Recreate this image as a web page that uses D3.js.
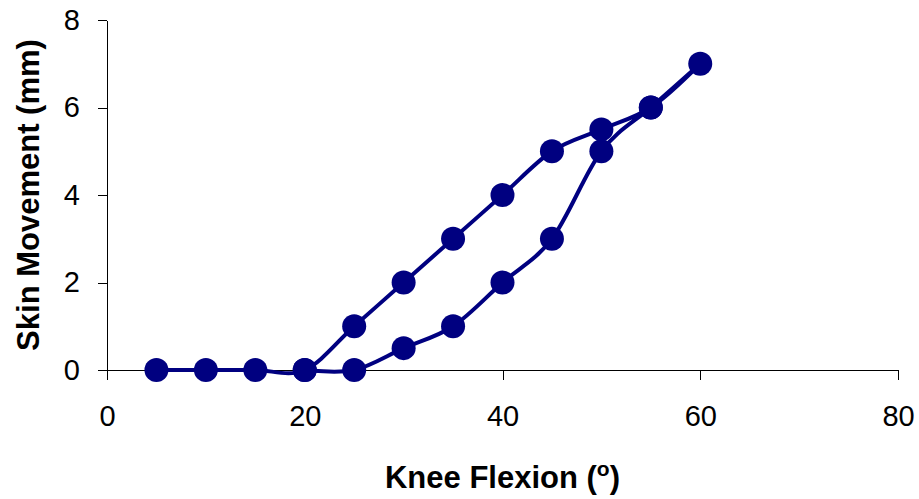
<!DOCTYPE html>
<html>
<head>
<meta charset="utf-8">
<script src="https://cdn.jsdelivr.net/npm/d3@7"></script>
<style>
  body { margin: 0; background: #fff; }
  text { font-family: "Liberation Sans", Arial, sans-serif; }
</style>
</head>
<body>
<div id="chart"></div>
<script>
// knee flexion loop: loading up to 60 deg then back down
var kneeAngle = [5, 10, 15, 20, 25, 30, 35, 40, 45, 50, 55, 60, 55, 50, 45, 40, 35, 30, 25, 20];
var skinMove  = [0, 0, 0, 0, 1, 2, 3, 4, 5, 5.5, 6, 7, 6, 5, 3, 2, 1, 0.5, 0, 0];
var xTicks = [0, 20, 40, 60, 80];
var yTicks = [0, 2, 4, 6, 8];

var width = 919, height = 499;
var navy = "#000080";

var data = kneeAngle.map(function(d, i) { return {x: d, y: skinMove[i]}; });

var svg = d3.select("#chart").append("svg")
    .attr("width", width)
    .attr("height", height);

var x = d3.scaleLinear().domain([0, 80]).range([107, 898]);
var y = d3.scaleLinear().domain([0, 8]).range([370, 20]);

// y axis
var yAxis = svg.append("g")
    .attr("transform", "translate(" + x(0) + ",0)")
    .call(d3.axisLeft(y).tickValues(yTicks).tickSize(9).tickSizeOuter(0).tickPadding(18));

// x axis sits on y = 0
var xAxis = svg.append("g")
    .attr("transform", "translate(0," + y(0) + ")")
    .call(d3.axisBottom(x).tickValues(xTicks).tickSize(10).tickSizeOuter(0).tickPadding(25));

svg.selectAll(".domain, .tick line")
    .attr("stroke", "#000")
    .attr("stroke-width", 1)
    .attr("shape-rendering", "crispEdges");
svg.selectAll(".tick text")
    .attr("fill", "#000")
    .style("font-family", "'Liberation Sans', Arial, sans-serif")
    .style("font-size", "29px");

// smoothed line, like the spreadsheet one
svg.append("path")
    .datum(data)
    .attr("fill", "none")
    .attr("stroke", navy)
    .attr("stroke-width", 4)
    .attr("stroke-linejoin", "round")
    .attr("d", d3.line()
      .x(function(d) { return x(d.x); })
      .y(function(d) { return y(d.y); })
      .curve(d3.curveCardinal.tension(0)));

svg.selectAll(".dot")
    .data(data)
  .enter().append("circle")
    .attr("class", "dot")
    .attr("cx", function(d) { return x(d.x); })
    .attr("cy", function(d) { return y(d.y); })
    .attr("r", 12)
    .attr("fill", navy);

// axis titles
var xt = svg.append("text")
    .attr("x", x(40))
    .attr("y", 488)
    .attr("text-anchor", "middle")
    .style("font-size", "31px")
    .style("font-weight", "bold");
xt.append("tspan").text("Knee Flexion (");
xt.append("tspan").attr("dy", -12).style("font-size", "21px").text("o");
xt.append("tspan").attr("dy", 12).text(")");

svg.append("text")
    .attr("transform", "translate(39," + ((y(0) + y(8)) / 2) + ") rotate(-90)")
    .attr("text-anchor", "middle")
    .style("font-size", "31px")
    .style("font-weight", "bold")
    .text("Skin Movement (mm)");
</script>
</body>
</html>
